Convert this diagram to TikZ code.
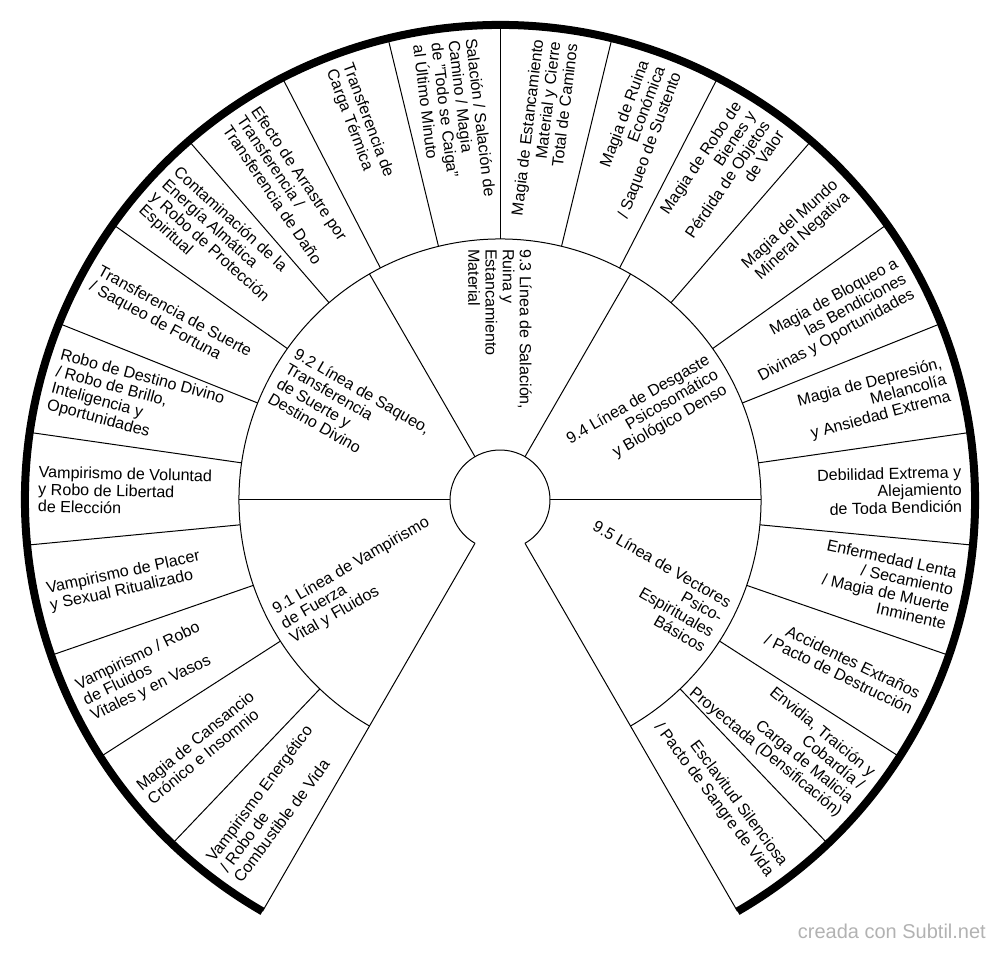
\documentclass[tikz,border=0pt]{standalone}
\usepackage{fontspec}
\setmainfont{Liberation Sans}

\begin{document}
\begin{tikzpicture}[
		x=1pt, y=1pt,
		seg/.style={line width=1pt},
		rim/.style={line width=8pt},
		txt/.style={inner sep=0pt, font=\fontsize{16.1}{17.2}\selectfont},
		outl/.style={txt, align=left, anchor=west},
		outr/.style={txt, align=right, anchor=east},
	]
	\useasboundingbox (-500,-452) rectangle (500,500);
	\coordinate (center) at (0,0);
	% rings
	\draw[seg] (240:50) arc[start angle=240, end angle=-60, radius=50];
	\draw[seg] (240:261) arc[start angle=240, end angle=-60, radius=261];
	\draw[rim] (240:475) arc[start angle=240, end angle=-60, radius=475];
	% spokes
	\draw[seg] (240:50) -- (240:475);
	\draw[seg] (-60:50) -- (-60:475);
	\foreach \a in {180,120,60,0}
		\draw[seg] (\a:50) -- (\a:261);
	\foreach \k in {1,...,21}
		\draw[seg] ({240-\k*300/22}:261) -- ({240-\k*300/22}:475);
	% inner ring
	\node[outl, rotate=30]  (l91) at (210:251) {9.1 Línea de Vampirismo\\de Fuerza\\Vital y Fluidos};
	\node[outl, rotate=-30] (l92) at (150:251) {9.2 Línea de Saqueo,\\Transferencia\\de Suerte y\\Destino Divino};
	\node[outl, rotate=-90] (l93) at (90:251) {9.3 Línea de Salación,\\Ruina y\\Estancamiento\\Material};
	\node[outr, rotate=30]  (l94) at (30:251) {9.4 Línea de Desgaste\\Psicosomático\\y Biológico Denso};
	\node[outr, rotate=-30] (l95) at (-30:251) {9.5 Línea de Vectores\\Psico-\\Espirituales\\Básicos};
	% outer ring
	\node[outl, rotate=53.18]  (o1)  at (233.18:462) {Vampirismo Energético\\/ Robo de\\Combustible de Vida};
	\node[outl, rotate=39.55]  (o2)  at (219.55:462) {Magia de Cansancio\\Crónico e Insomnio};
	\node[outl, rotate=25.91]  (o3)  at (205.91:462) {Vampirismo / Robo\\de Fluidos\\Vitales y en Vasos};
	\node[outl, rotate=12.27]  (o4)  at (192.27:462) {Vampirismo de Placer\\y Sexual Ritualizado};
	\node[outl, rotate=-1.36]  (o5)  at (178.64:462) {Vampirismo de Voluntad\\y Robo de Libertad\\de Elección};
	\node[outl, rotate=-15]    (o6)  at (165:462) {Robo de Destino Divino\\/ Robo de Brillo,\\Inteligencia y\\Oportunidades};
	\node[outl, rotate=-28.64] (o7)  at (151.36:462) {Transferencia de Suerte\\/ Saqueo de Fortuna};
	\node[outl, rotate=-42.27] (o8)  at (137.73:462) {Contaminación de la\\Energía Almática\\y Robo de Protección\\Espiritual};
	\node[outl, rotate=-55.91] (o9)  at (124.09:462) {Efecto de Arrastre por\\Transferencia /\\Transferencia de Daño};
	\node[outl, rotate=-69.55] (o10) at (110.45:462) {Transferencia de\\Carga Térmica};
	\node[outl, rotate=-83.18] (o11) at (96.82:462) {Salación / Salación de\\Camino / Magia\\de "Todo se Caiga"\\al Último Minuto};
	\node[outr, rotate=83.18]  (o12) at (83.18:462) {Magia de Estancamiento\\Material y Cierre\\Total de Caminos};
	\node[outr, rotate=69.55]  (o13) at (69.55:462) {Magia de Ruina\\Económica\\/ Saqueo de Sustento};
	\node[outr, rotate=55.91]  (o14) at (55.91:462) {Magia de Robo de\\Bienes y\\Pérdida de Objetos\\de Valor};
	\node[outr, rotate=42.27]  (o15) at (42.27:462) {Magia del Mundo\\Mineral Negativa};
	\node[outr, rotate=28.64]  (o16) at (28.64:462) {Magia de Bloqueo a\\las Bendiciones\\Divinas y Oportunidades};
	\node[outr, rotate=15]     (o17) at (15:462) {Magia de Depresión,\\Melancolía\\y Ansiedad Extrema};
	\node[outr, rotate=1.36]   (o18) at (1.36:462) {Debilidad Extrema y\\Alejamiento\\de Toda Bendición};
	\node[outr, rotate=-12.27] (o19) at (-12.27:462) {Enfermedad Lenta\\/ Secamiento\\/ Magia de Muerte\\Inminente};
	\node[outr, rotate=-25.91] (o20) at (-25.91:462) {Accidentes Extraños\\/ Pacto de Destrucción};
	\node[outr, rotate=-39.55] (o21) at (-39.55:462) {Envidia, Traición y\\Cobardía /\\Carga de Malicia\\Proyectada (Densificación)};
	\node[outr, rotate=-53.18] (o22) at (-53.18:462) {Esclavitud Silenciosa\\/ Pacto de Sangre de Vida};
	% credit
	\node[inner sep=0pt, font=\fontsize{20}{20}\selectfont, text=black!30, anchor=base east] (credit) at (486,-438) {creada con Subtil.net};
\end{tikzpicture}
\end{document}
